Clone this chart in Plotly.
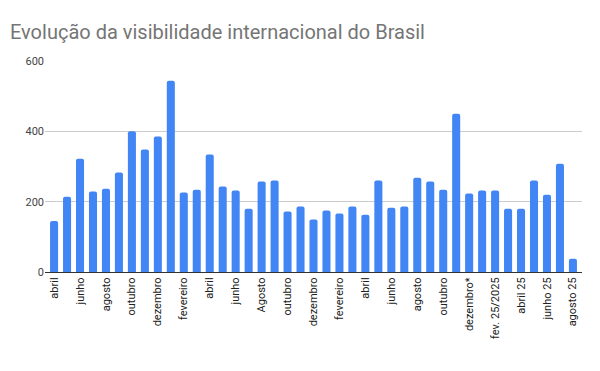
import plotly.graph_objects as go

months = ["abril", "maio", "junho", "julho", "agosto", "setembro", "outubro", "novembro",
          "dezembro", "janeiro", "fevereiro", "março", "abril", "maio", "junho", "julho",
          "Agosto", "setembro", "outubro", "novembro", "dezembro", "janeiro", "fevereiro",
          "março", "abril", "maio", "junho", "julho", "agosto", "setembro", "outubro",
          "novembro", "dezembro*", "janeiro", "fev. 25/2025", "março", "abril 25", "maio 25",
          "junho 25", "julho 25", "agosto 25"]
values = [145, 214, 322, 229, 237, 283, 400, 348, 385, 544,
          226, 234, 334, 243, 232, 180, 257, 260, 172, 186,
          149, 175, 166, 186, 163, 260, 183, 186, 268, 257,
          234, 450, 223, 232, 232, 180, 180, 260, 220, 308, 38]

x = list(range(len(values)))
tickvals = x[::2]
ticktext = months[::2]

fig = go.Figure(go.Bar(x=x, y=values, marker=dict(color="#4285F4", line=dict(width=0)),
                       hoverinfo="y"))
fig.update_layout(
    width=600, height=371,
    margin=dict(l=37, r=26, t=53, b=107),
    paper_bgcolor="white", plot_bgcolor="white",
    title=dict(text="Evolução da visibilidade internacional do Brasil",
               x=0.0033, xanchor="left", y=0.935, yanchor="middle",
               font=dict(family="Roboto, Arial", size=20, color="#757575")),
    font=dict(family="Roboto, Arial", size=11, color="#222222"),
    bargap=0.38,
    barcornerradius=2,
    showlegend=False,
)
fig.update_xaxes(range=[-0.7, 40.7], tickmode="array", tickvals=tickvals, ticktext=ticktext,
                 tickangle=-90, showgrid=False, showline=True, linecolor="#333333",
                 linewidth=1, ticks="", tickfont=dict(size=11, color="#222222"),
                 fixedrange=True, automargin=False)
fig.update_yaxes(range=[0, 600], tickvals=[0, 200, 400, 600], showgrid=True,
                 gridcolor="#cccccc", gridwidth=1, zeroline=False, ticks="",
                 tickfont=dict(size=11, color="#444444"), fixedrange=True, automargin=False)

fig.write_html("out.html")
